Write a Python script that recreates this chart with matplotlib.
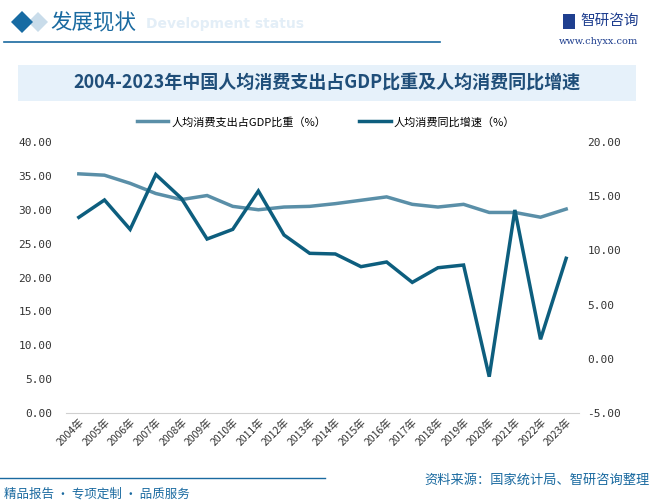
import matplotlib
matplotlib.use("Agg")
import matplotlib.pyplot as plt
from matplotlib.patches import Rectangle, Polygon
from matplotlib.lines import Line2D

plt.rcParams['font.family'] = ['Noto Sans CJK SC', 'DejaVu Sans']

years = [f"{y}年" for y in range(2004, 2024)]
gdp_share = [35.3, 35.1, 33.9, 32.4, 31.5, 32.1, 30.5, 30.0, 30.4, 30.5,
             30.9, 31.4, 31.9, 30.8, 30.4, 30.8, 29.6, 29.6, 28.9, 30.1]
growth = [13.05, 14.65, 11.94, 17.0, 14.8, 11.05, 11.94, 15.48, 11.42, 9.73,
          9.67, 8.5, 8.93, 7.05, 8.4, 8.65, -1.65, 13.73, 1.8, 9.27]
left_ticks = [0, 5, 10, 15, 20, 25, 30, 35, 40]
right_ticks = [-5, 0, 5, 10, 15, 20]

W, H = 653, 503
fig = plt.figure(figsize=(W/100, H/100), dpi=100)

def fx(x): return x / W
def fy(y): return 1 - y / H

light = '#5a8fa8'
dark = '#0d5e7e'

# Header
fig.patches.append(Polygon([(fx(38), fy(12)), (fx(48), fy(22)), (fx(38), fy(32)), (fx(28), fy(22))],
                           closed=True, transform=fig.transFigure, facecolor='#c9dcea', edgecolor='none'))
fig.patches.append(Polygon([(fx(22), fy(11)), (fx(33), fy(22)), (fx(22), fy(33)), (fx(11), fy(22))],
                           closed=True, transform=fig.transFigure, facecolor='#176ba3', edgecolor='none'))
fig.text(fx(146), fy(28), "Development status", fontsize=10, fontweight='bold', color='#e3eef7',
         ha='left', va='baseline', family='DejaVu Sans')
fig.text(fx(50), fy(22), "发展现状", fontsize=15.5, color='#1a6aa0', ha='left', va='center')
fig.add_artist(Line2D([fx(4), fx(440)], [fy(42), fy(42)], transform=fig.transFigure, color='#1a6aa0', lw=1.2))
# logo
fig.patches.append(Rectangle((fx(563), fy(29)), 12/W, 15/H, transform=fig.transFigure,
                             facecolor='#1f3f8f', edgecolor='none'))
fig.text(fx(580), fy(21), "智研咨询", fontsize=10.5, color='#1f3f8f', ha='left', va='center')
fig.text(fx(598), fy(41), "www.chyxx.com", fontsize=7, color='#1f3f8f', ha='center', va='center',
         family='DejaVu Serif')

# Title box
fig.patches.append(Rectangle((fx(18), fy(101)), (636-18)/W, 36/H, transform=fig.transFigure,
                             facecolor='#e6f1fa', edgecolor='none'))
fig.text(fx(327), fy(83), "2004-2023年中国人均消费支出占GDP比重及人均消费同比增速", fontsize=13,
         fontweight='bold', color='#1f4e79', ha='center', va='center')

# Axes
ax = fig.add_axes([fx(66), fy(413), (579-66)/W, (413-142)/H])
ax2 = ax.twinx()
x = list(range(len(years)))
ax.plot(x, gdp_share, color=light, lw=2.5, label="人均消费支出占GDP比重（%）", solid_joinstyle='miter')
ax2.plot(x, growth, color=dark, lw=2.5, label="人均消费同比增速（%）", solid_joinstyle='miter')
ax.set_ylim(0, 40)
ax2.set_ylim(-5, 20)
ax.set_xlim(-0.5, len(years) - 0.5)
ax.set_yticks(left_ticks)
ax.set_yticklabels([f"{v:.2f}" for v in left_ticks], family='DejaVu Sans Mono')
ax2.set_yticks(right_ticks)
ax2.set_yticklabels([f"{v:.2f}" for v in right_ticks], family='DejaVu Sans Mono')
ax.set_xticks(x)
ax.set_xticklabels(years, rotation=45, ha='right', rotation_mode='anchor')
for a in (ax, ax2):
    for s in a.spines.values():
        s.set_visible(False)
    a.tick_params(length=0, labelsize=8, colors='#333333')
ax.spines['bottom'].set_visible(True)
ax.spines['bottom'].set_color('#d0d0d0')
ax.tick_params(axis='y', pad=10)
ax2.tick_params(axis='y', pad=6)
ax.tick_params(axis='x', pad=3, labelsize=7.5)
ax.patch.set_alpha(0)

# Legend
h1, l1 = ax.get_legend_handles_labels()
h2, l2 = ax2.get_legend_handles_labels()
fig.legend(h1 + h2, l1 + l2, loc='center', bbox_to_anchor=(fx(326), fy(122)), ncol=2, frameon=False,
           fontsize=8, handlelength=2.8, columnspacing=3, handletextpad=0.3)

# Footer
fig.add_artist(Line2D([0, fx(325)], [fy(478), fy(478)], transform=fig.transFigure, color='#1a6aa0', lw=1.0))
fig.text(fx(650), fy(480), "资料来源：国家统计局、智研咨询整理", fontsize=9.5, color='#1a6aa0', ha='right', va='center')
fig.text(fx(4), fy(494), "精品报告 · 专项定制 · 品质服务", fontsize=9, color='#1a6aa0', ha='left', va='center')

fig.savefig("out.png", dpi=100)
